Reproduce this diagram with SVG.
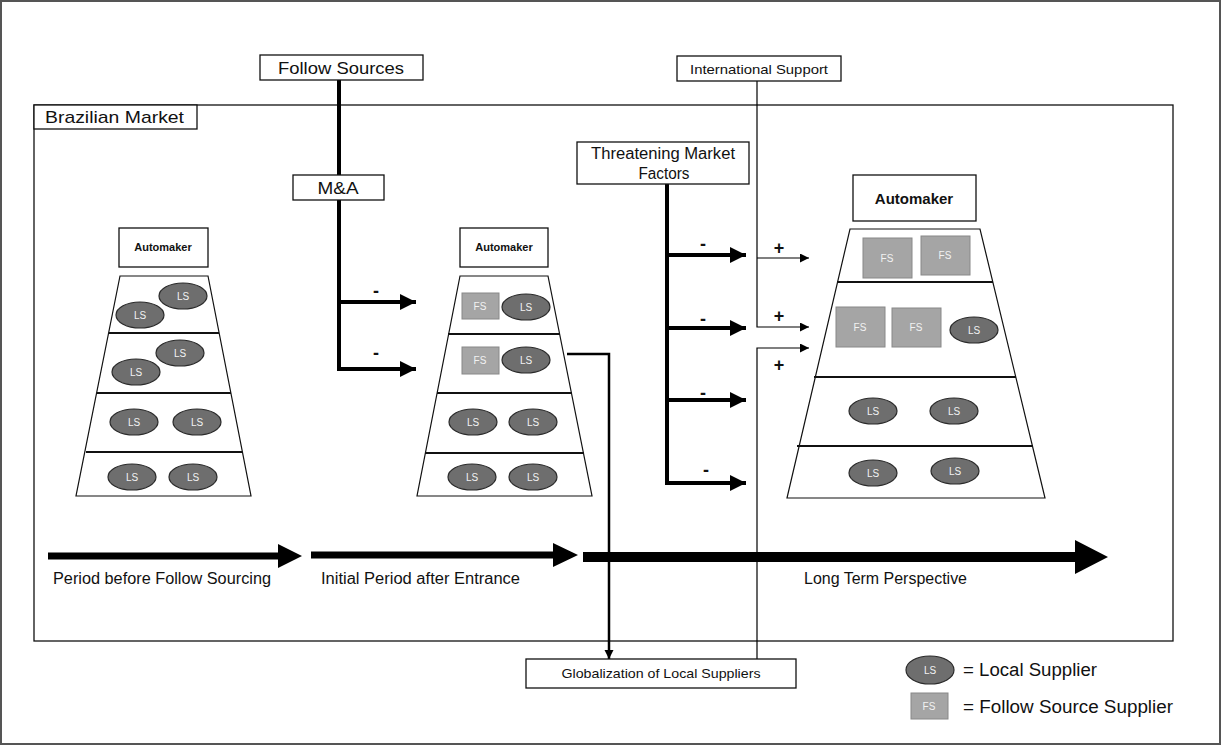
<svg xmlns="http://www.w3.org/2000/svg" width="1221" height="745" viewBox="0 0 1221 745">
<style>
text{font-family:"Liberation Sans",Arial,sans-serif;fill:#111}
.box{fill:#fff;stroke:#111;stroke-width:1.3}
.trap{fill:#fff;stroke:#111;stroke-width:1.2}
.div{stroke:#111;stroke-width:2}
.ls{fill:#6e6e6e;stroke:#2a2a2a;stroke-width:1.2}
.fs{fill:#a5a5a5;stroke:#888;stroke-width:1}
.lt{fill:#f2f2f2;font-size:10px;text-anchor:middle}
.thick{stroke:#000;stroke-width:4;fill:none}
.thin{stroke:#000;stroke-width:1.2;fill:none}
.med{stroke:#000;stroke-width:2.5;fill:none}
.sign{font-size:18px;font-weight:bold;text-anchor:middle}
.am{font-weight:bold;text-anchor:middle}
</style>
<defs>
<marker id="ah" markerUnits="userSpaceOnUse" markerWidth="18" markerHeight="18" refX="16" refY="8" orient="auto"><path d="M0,0 L16,8 L0,16 z" fill="#000"/></marker>
<marker id="ahs" markerUnits="userSpaceOnUse" markerWidth="10" markerHeight="10" refX="9" refY="4.5" orient="auto"><path d="M0,0 L9,4.5 L0,9 z" fill="#000"/></marker>
</defs>
<rect x="1" y="1" width="1219" height="743" fill="#fff" stroke="#555" stroke-width="2"/>

<g id="brazilian-market">
<rect x="34" y="105" width="1139" height="536" fill="none" stroke="#111" stroke-width="1.3"/>
<rect class="box" x="34" y="105" width="163" height="24"/>
<text x="45" y="123" font-size="17" textLength="139" lengthAdjust="spacingAndGlyphs">Brazilian Market</text>
</g>

<g id="connectors">
<path class="thick" d="M339,80 V369"/>
<path class="thick" d="M339,302 H416" marker-end="url(#ah)"/>
<path class="thick" d="M337,369 H416" marker-end="url(#ah)"/>
<path class="thick" d="M667,184 V483"/>
<path class="thick" d="M667,255 H746" marker-end="url(#ah)"/>
<path class="thick" d="M667,328 H746" marker-end="url(#ah)"/>
<path class="thick" d="M667,400 H746" marker-end="url(#ah)"/>
<path class="thick" d="M665,483 H746" marker-end="url(#ah)"/>
<path class="thin" d="M757,81 V327 H809" marker-end="url(#ahs)"/>
<path class="thin" d="M757,258 H809" marker-end="url(#ahs)"/>
<path class="thin" d="M757,659 V348 H809" marker-end="url(#ahs)"/>
<path class="med" d="M567,354 H609 V659" marker-end="url(#ahs)"/>
<text x="376" y="297" class="sign">-</text>
<text x="376" y="359" class="sign">-</text>
<text x="703" y="250" class="sign">-</text>
<text x="703" y="325" class="sign">-</text>
<text x="703" y="399" class="sign">-</text>
<text x="706" y="476" class="sign">-</text>
<text x="779" y="254" class="sign">+</text>
<text x="779" y="322" class="sign">+</text>
<text x="779" y="371" class="sign">+</text>
</g>

<g id="follow-sources">
<rect class="box" x="260" y="55" width="163" height="25"/>
<text x="341" y="74" font-size="17" text-anchor="middle" textLength="126" lengthAdjust="spacingAndGlyphs">Follow Sources</text>
</g>
<g id="ma">
<rect class="box" x="293" y="175" width="91" height="25"/>
<text x="338" y="194" font-size="17" text-anchor="middle" textLength="41" lengthAdjust="spacingAndGlyphs">M&amp;A</text>
</g>
<g id="international-support">
<rect class="box" x="677" y="56" width="164" height="25"/>
<text x="759" y="74" font-size="13" text-anchor="middle" textLength="138" lengthAdjust="spacingAndGlyphs">International Support</text>
</g>
<g id="threatening">
<rect class="box" x="577" y="142" width="172" height="42"/>
<text x="663" y="159" font-size="16" text-anchor="middle" textLength="144" lengthAdjust="spacingAndGlyphs">Threatening Market</text>
<text x="664" y="179" font-size="16" text-anchor="middle" textLength="51" lengthAdjust="spacingAndGlyphs">Factors</text>
</g>
<g id="globalization">
<rect class="box" x="526" y="659" width="270" height="29"/>
<text x="661" y="678" font-size="13" text-anchor="middle" textLength="199" lengthAdjust="spacingAndGlyphs">Globalization of Local Suppliers</text>
</g>

<g id="pyramid-1">
<rect class="box" x="119" y="228" width="89" height="39"/>
<text x="163" y="251" font-size="11" class="am">Automaker</text>
<polygon class="trap" points="120,276 208,276 251,496 76,496"/>
<line class="div" x1="109" y1="333" x2="219" y2="333"/>
<line class="div" x1="97" y1="393" x2="231" y2="393"/>
<line class="div" x1="86" y1="452" x2="242" y2="452"/>
<ellipse class="ls" cx="183" cy="296" rx="24" ry="13"/><text class="lt" x="183" y="300">LS</text>
<ellipse class="ls" cx="140" cy="315" rx="24" ry="13"/><text class="lt" x="140" y="319">LS</text>
<ellipse class="ls" cx="180" cy="353" rx="24" ry="13"/><text class="lt" x="180" y="357">LS</text>
<ellipse class="ls" cx="136" cy="372" rx="24" ry="13"/><text class="lt" x="136" y="376">LS</text>
<ellipse class="ls" cx="134" cy="422" rx="24" ry="13"/><text class="lt" x="134" y="426">LS</text>
<ellipse class="ls" cx="197" cy="422" rx="24" ry="13"/><text class="lt" x="197" y="426">LS</text>
<ellipse class="ls" cx="132" cy="477" rx="24" ry="13"/><text class="lt" x="132" y="481">LS</text>
<ellipse class="ls" cx="193" cy="477" rx="24" ry="13"/><text class="lt" x="193" y="481">LS</text>
</g>

<g id="pyramid-2">
<rect class="box" x="460" y="228" width="88" height="39"/>
<text x="504" y="251" font-size="11" class="am">Automaker</text>
<polygon class="trap" points="460,276 548,276 592,496 417,496"/>
<line class="div" x1="448" y1="334" x2="560" y2="334"/>
<line class="div" x1="437" y1="393" x2="572" y2="393"/>
<line class="div" x1="425" y1="453" x2="584" y2="453"/>
<rect class="fs" x="462" y="293" width="37" height="26"/><text class="lt" x="480" y="310">FS</text>
<ellipse class="ls" cx="526" cy="307" rx="24" ry="13"/><text class="lt" x="526" y="311">LS</text>
<rect class="fs" x="462" y="347" width="37" height="27"/><text class="lt" x="480" y="364">FS</text>
<ellipse class="ls" cx="526" cy="360" rx="24" ry="13"/><text class="lt" x="526" y="364">LS</text>
<ellipse class="ls" cx="473" cy="422" rx="24" ry="13"/><text class="lt" x="473" y="426">LS</text>
<ellipse class="ls" cx="533" cy="422" rx="24" ry="13"/><text class="lt" x="533" y="426">LS</text>
<ellipse class="ls" cx="472" cy="477" rx="24" ry="13"/><text class="lt" x="472" y="481">LS</text>
<ellipse class="ls" cx="533" cy="477" rx="24" ry="13"/><text class="lt" x="533" y="481">LS</text>
</g>

<g id="pyramid-3">
<rect class="box" x="853" y="175" width="123" height="46"/>
<text x="914" y="204" font-size="15" class="am">Automaker</text>
<polygon class="trap" points="850,229 980,229 1045,498 787,498"/>
<line class="div" x1="837" y1="282" x2="993" y2="282"/>
<line class="div" x1="814" y1="377" x2="1016" y2="377"/>
<line class="div" x1="797" y1="446" x2="1033" y2="446"/>
<rect class="fs" x="863" y="238" width="49" height="40"/><text class="lt" x="887" y="262">FS</text>
<rect class="fs" x="921" y="236" width="49" height="39"/><text class="lt" x="945" y="259">FS</text>
<rect class="fs" x="836" y="307" width="49" height="40"/><text class="lt" x="860" y="331">FS</text>
<rect class="fs" x="892" y="308" width="49" height="39"/><text class="lt" x="916" y="331">FS</text>
<ellipse class="ls" cx="974" cy="330" rx="24" ry="13"/><text class="lt" x="974" y="334">LS</text>
<ellipse class="ls" cx="873" cy="411" rx="24" ry="13"/><text class="lt" x="873" y="415">LS</text>
<ellipse class="ls" cx="954" cy="411" rx="24" ry="13"/><text class="lt" x="954" y="415">LS</text>
<ellipse class="ls" cx="873" cy="473" rx="24" ry="13"/><text class="lt" x="873" y="477">LS</text>
<ellipse class="ls" cx="955" cy="471" rx="24" ry="13"/><text class="lt" x="955" y="475">LS</text>
</g>

<g id="timeline">
<path d="M48,552.5 H278 V544 L302,556 L278,568 V559.5 H48 Z" fill="#000"/>
<path d="M311,551.5 H553 V543 L578,555 L553,567 V558.5 H311 Z" fill="#000"/>
<path d="M583,552 H1075 V540 L1108,557 L1075,574 V562 H583 Z" fill="#000"/>
<text x="53" y="584" font-size="16" textLength="218" lengthAdjust="spacingAndGlyphs">Period before Follow Sourcing</text>
<text x="321" y="584" font-size="16" textLength="199" lengthAdjust="spacingAndGlyphs">Initial Period after Entrance</text>
<text x="804" y="584" font-size="16" textLength="163" lengthAdjust="spacingAndGlyphs">Long Term Perspective</text>
</g>

<g id="legend">
<ellipse class="ls" cx="930" cy="670" rx="24" ry="14"/><text class="lt" x="930" y="674">LS</text>
<text x="963" y="676" font-size="18" textLength="134" lengthAdjust="spacingAndGlyphs">= Local Supplier</text>
<rect class="fs" x="911" y="693" width="37" height="26"/><text class="lt" x="929" y="710">FS</text>
<text x="963" y="713" font-size="18" textLength="210" lengthAdjust="spacingAndGlyphs">= Follow Source Supplier</text>
</g>
</svg>
